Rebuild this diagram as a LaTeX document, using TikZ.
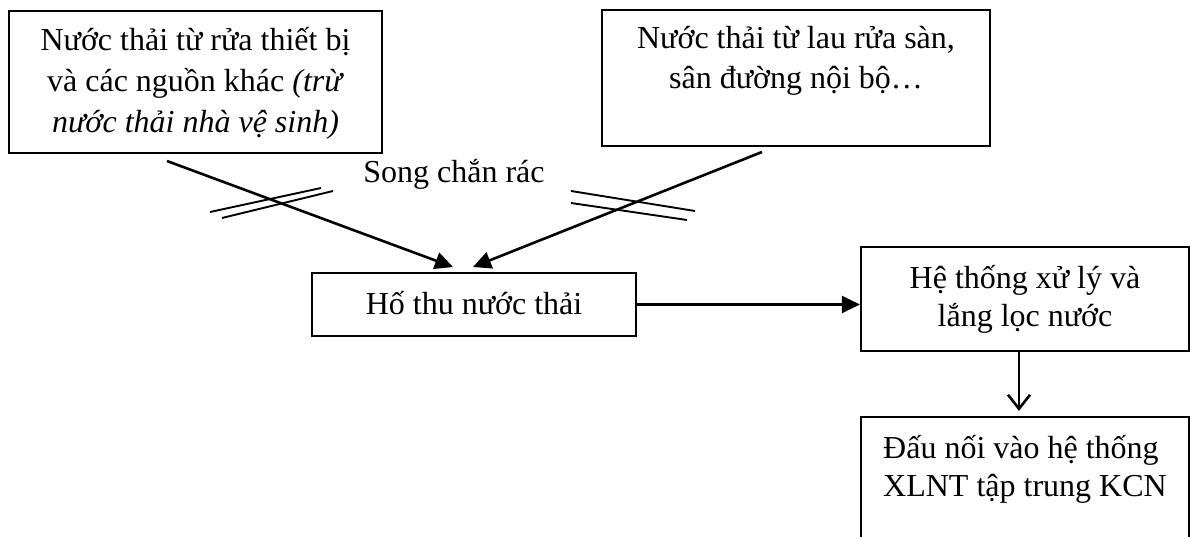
\documentclass[tikz,border=0pt]{standalone}
\usepackage{fontspec}
\setmainfont{Liberation Serif}
\usetikzlibrary{arrows.meta}
\begin{document}
\begin{tikzpicture}[x=1pt,y=-1pt,
  boxnode/.style={draw, line width=2.2pt, inner sep=0pt},
  txt/.style={anchor=base, inner sep=0pt, font=\fontsize{32}{38}\selectfont},
  txtl/.style={anchor=base west, inner sep=0pt, font=\fontsize{32}{38}\selectfont},
  conn/.style={line width=2.6pt},
  hatch/.style={line width=1.9pt},
  fillarrow/.style={-{Triangle[length=18pt,width=17pt]}},
  openarrow/.style={-{Straight Barb[length=14pt,width=22pt]}}]
\useasboundingbox (0,0) rectangle (1191,537);
\clip (0,0) rectangle (1191,537);

% boxes
\node[boxnode, minimum width=373pt, minimum height=142pt] (src1) at (195.5,82) {};
\node[boxnode, minimum width=388pt, minimum height=136pt] (src2) at (796,78) {};
\node[boxnode, minimum width=324pt, minimum height=63pt] (hothu) at (474,304.5) {};
\node[boxnode, minimum width=328pt, minimum height=104pt] (hethong) at (1025,299) {};
\node[boxnode, minimum width=328pt, minimum height=153pt] (daunoi) at (1025,493.5) {};

% texts
\node[txt] (src1a) at (195.5,51) {Nước thải từ rửa thiết bị};
\node[txt] (src1b) at (195.5,92) {và các nguồn khác \textit{(trừ}};
\node[txt] (src1c) at (195.5,133) {\textit{nước thải nhà vệ sinh)}};
\node[txt] (src2a) at (796,49) {Nước thải từ lau rửa sàn,};
\node[txt] (src2b) at (796,89) {sân đường nội bộ…};
\node[txt] (song) at (454,183) {Song chắn rác};
\node[txt] (hothut) at (474,315) {Hố thu nước thải};
\node[txt] (hetha) at (1025,288) {Hệ thống xử lý và};
\node[txt] (hethb) at (1025,326) {lắng lọc nước};
\node[txtl] (dauna) at (883,458) {Đấu nối vào hệ thống};
\node[txtl] (daunb) at (883,496) {XLNT tập trung KCN};

% connectors
\coordinate (in1) at (167,161);
\coordinate (in1tip) at (453,267);
\coordinate (in2) at (762,152);
\coordinate (in2tip) at (473,267);
\draw[conn,fillarrow] (in1) -- (in1tip);
\draw[conn,fillarrow] (in2) -- (in2tip);
\draw[conn,fillarrow] (hothu.east) -- (hothu.east -| hethong.west);
\draw[conn,openarrow] ([xshift=-6pt]hethong.south) -- ([xshift=-6pt,yshift=5pt]daunoi.north);

% screens (song chan rac)
\draw[hatch] (210,212) -- (321,188);
\draw[hatch] (222,218) -- (333,191);
\draw[hatch] (571,191) -- (695,211);
\draw[hatch] (571,203) -- (687,220);
\end{tikzpicture}
\end{document}
